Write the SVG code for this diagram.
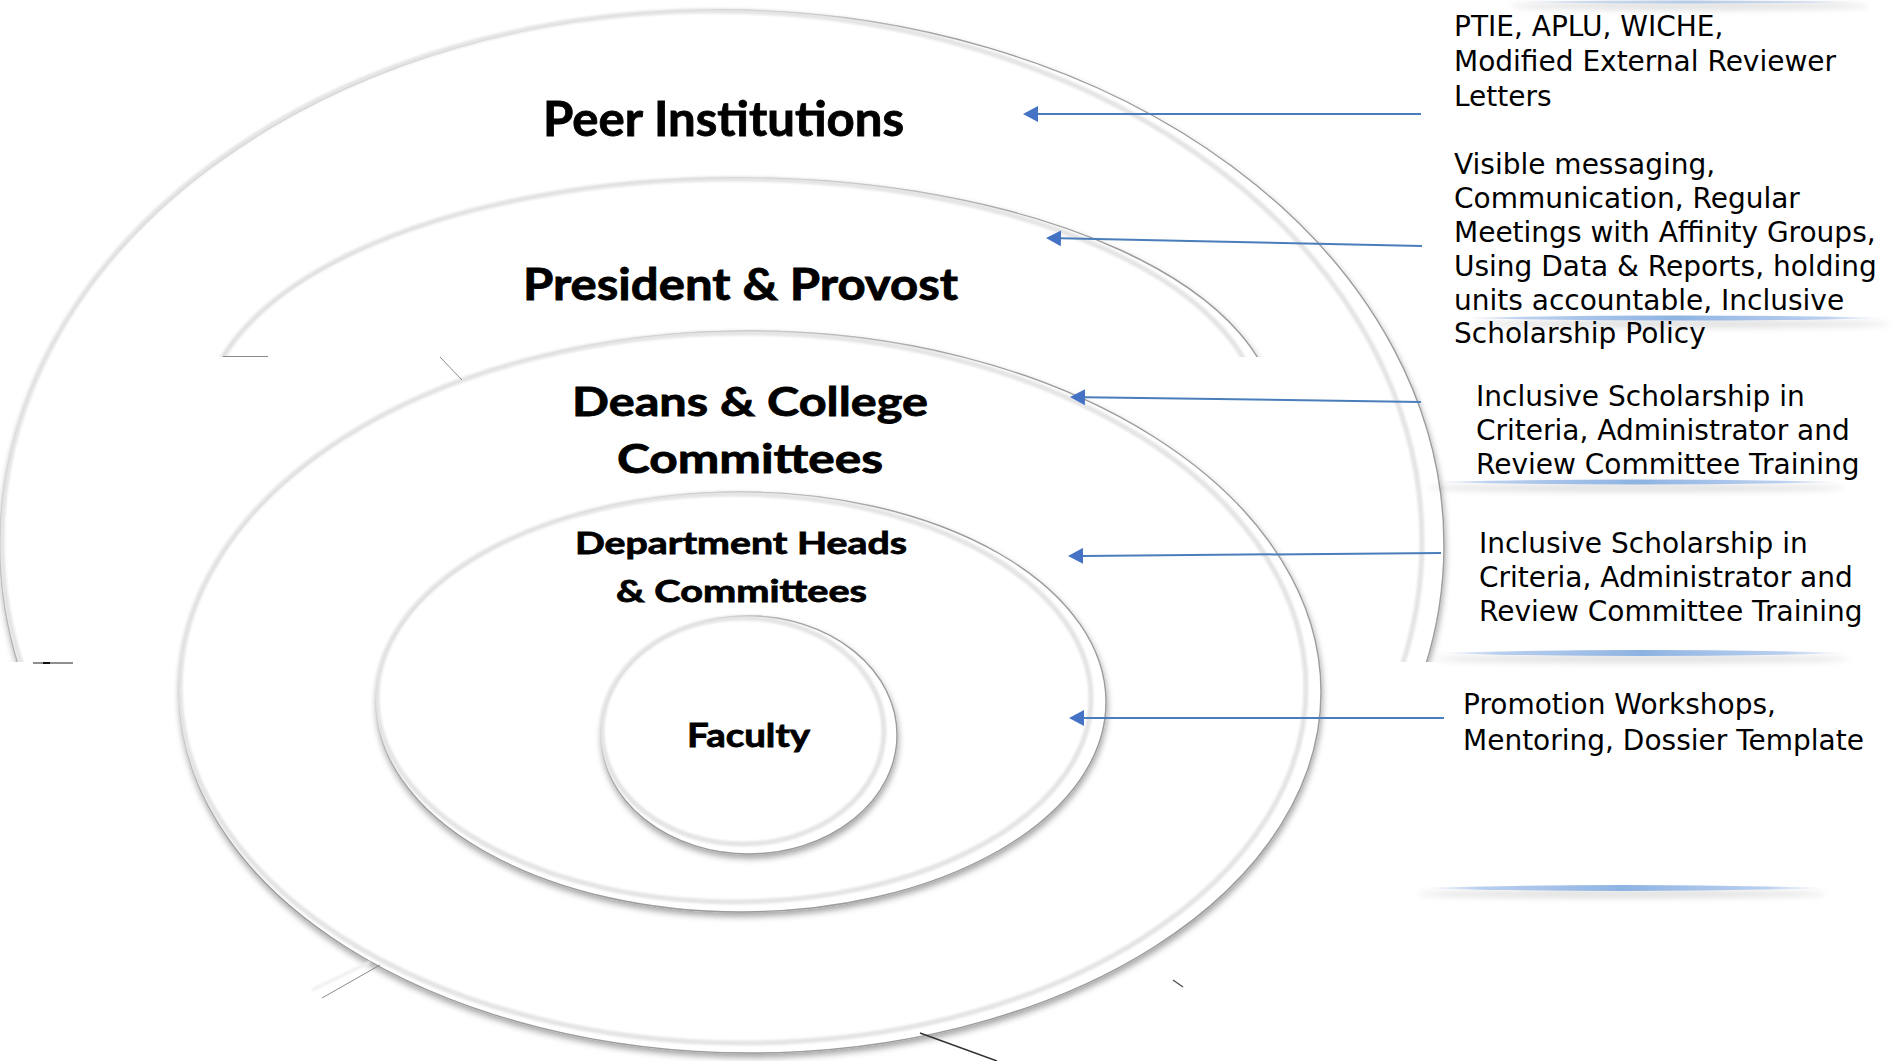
<svg xmlns="http://www.w3.org/2000/svg" width="1895" height="1061" viewBox="0 0 1895 1061">
  <style>
    .ring { fill: #ffffff; stroke: #9c9c9c; stroke-width: 1.4; }
    .bevel { fill: none; stroke: #e4e4e4; stroke-width: 5; }
    .label { font-family: Lato, "Liberation Sans", sans-serif; font-weight: 700; fill: #000; stroke: #000; stroke-width: 0.8; text-anchor: middle; }
    .note { font-family: "DejaVu Sans", Verdana, sans-serif; font-size: 28px; fill: #000; }
    .arrow { stroke: #4a7ebb; stroke-width: 2; fill: none; }
    .artifact { stroke: #8a8a8a; stroke-width: 1; fill: none; }
  </style>
  <defs>
    <filter id="ringShadow" x="-5%" y="-5%" width="110%" height="115%">
      <feGaussianBlur in="SourceAlpha" stdDeviation="3"/>
      <feOffset dx="1" dy="4" result="blurred"/>
      <feFlood flood-color="#000" flood-opacity="0.35"/>
      <feComposite in2="blurred" operator="in"/>
      <feMerge><feMergeNode/><feMergeNode in="SourceGraphic"/></feMerge>
    </filter>
    <filter id="soft" x="-5%" y="-5%" width="110%" height="110%">
      <feGaussianBlur stdDeviation="1.2"/>
    </filter>
    <filter id="haze" x="-10%" y="-200%" width="120%" height="500%">
      <feGaussianBlur stdDeviation="3"/>
    </filter>
    <clipPath id="cutPeer"><rect x="0" y="0" width="1895" height="662"/></clipPath>
    <clipPath id="cutPresident"><rect x="0" y="0" width="1895" height="357"/></clipPath>
    <linearGradient id="sepFill" x1="0" y1="0" x2="1" y2="0">
      <stop offset="0" stop-color="#c5d6f0" stop-opacity="0"/>
      <stop offset="0.15" stop-color="#a9c4ec" stop-opacity="0.8"/>
      <stop offset="0.5" stop-color="#8db3e2" stop-opacity="1"/>
      <stop offset="0.85" stop-color="#a9c4ec" stop-opacity="0.8"/>
      <stop offset="1" stop-color="#c5d6f0" stop-opacity="0"/>
    </linearGradient>
    <marker id="head" markerUnits="userSpaceOnUse" markerWidth="16" markerHeight="16" refX="0" refY="8" orient="auto">
      <path d="M0,0 L15,8 L0,16 Z" fill="#4472c4"/>
    </marker>
  </defs>

  <rect width="1895" height="1061" fill="#ffffff"/>

  <!-- outermost ring, cut off below -->
  <g id="node-peer">
    <g clip-path="url(#cutPeer)">
      <ellipse class="ring" cx="722" cy="545" rx="722" ry="535" filter="url(#ringShadow)"/>
      <ellipse class="bevel" cx="712" cy="541" rx="710" ry="530" filter="url(#soft)"/>
    </g>
    <text class="label" x="723.5" y="136" font-size="47" textLength="361" lengthAdjust="spacingAndGlyphs">Peer Institutions</text>
  </g>

  <g id="node-president">
    <g clip-path="url(#cutPresident)">
      <ellipse class="ring" cx="740" cy="423" rx="537" ry="245" filter="url(#ringShadow)"/>
      <ellipse class="bevel" cx="733" cy="420" rx="528" ry="241" filter="url(#soft)"/>
    </g>
    <line class="artifact" x1="223" y1="356.5" x2="268" y2="356.5" stroke="#9a9a9a" stroke-width="1.5"/>
    <text class="label" x="740.5" y="300" font-size="43" textLength="435" lengthAdjust="spacingAndGlyphs">President &amp; Provost</text>
  </g>

  <g id="node-deans">
    <ellipse class="ring" cx="750" cy="692" rx="571" ry="361" filter="url(#ringShadow)"/>
    <ellipse class="bevel" cx="743" cy="688" rx="563" ry="355" filter="url(#soft)"/>
    <text class="label" x="750" y="416" font-size="40" textLength="356" lengthAdjust="spacingAndGlyphs">Deans &amp; College</text>
    <text class="label" x="750" y="473" font-size="40" textLength="266" lengthAdjust="spacingAndGlyphs">Committees</text>
  </g>

  <g id="node-department">
    <ellipse class="ring" cx="741" cy="702" rx="365" ry="210" filter="url(#ringShadow)"/>
    <ellipse class="bevel" cx="734" cy="698" rx="357" ry="204" filter="url(#soft)"/>
    <text class="label" x="741" y="554" font-size="31" textLength="332" lengthAdjust="spacingAndGlyphs">Department Heads</text>
    <text class="label" x="741.5" y="602" font-size="31" textLength="251" lengthAdjust="spacingAndGlyphs">&amp; Committees</text>
  </g>

  <g id="node-faculty">
    <ellipse class="ring" cx="749" cy="735" rx="148" ry="119" filter="url(#ringShadow)"/>
    <ellipse class="bevel" cx="743" cy="731" rx="141" ry="113" filter="url(#soft)"/>
    <text class="label" x="748.5" y="747" font-size="33" textLength="123" lengthAdjust="spacingAndGlyphs">Faculty</text>
  </g>

  <!-- stray edge marks left by the cut-out rings -->
  <g id="edge-marks">
    <line x1="33" y1="663" x2="73" y2="663" stroke="#6a6a6a" stroke-width="1.5"/>
    <line x1="43" y1="663" x2="50" y2="663" stroke="#111" stroke-width="2"/>
    <line class="artifact" x1="440" y1="357" x2="462" y2="380"/>
    <line class="artifact" x1="380" y1="965" x2="322" y2="998" stroke="#777"/>
    <line x1="370" y1="962" x2="312" y2="990" stroke="#eee" stroke-width="3" filter="url(#soft)"/>
    <line x1="920" y1="1033" x2="997" y2="1061" stroke="#333" stroke-width="1.5"/>
    <line x1="1173" y1="980" x2="1183" y2="987" stroke="#555" stroke-width="1.5"/>
  </g>

  <!-- connectors: strategy notes pointing into the rings -->
  <g id="connectors">
    <line class="arrow" x1="1421" y1="114" x2="1038" y2="114" marker-end="url(#head)"/>
    <line class="arrow" x1="1422" y1="246" x2="1061" y2="238.3" marker-end="url(#head)"/>
    <line class="arrow" x1="1421" y1="402" x2="1085" y2="397.2" marker-end="url(#head)"/>
    <line class="arrow" x1="1441" y1="553" x2="1083" y2="555.9" marker-end="url(#head)"/>
    <line class="arrow" x1="1444" y1="718" x2="1084" y2="718" marker-end="url(#head)"/>
  </g>

  <!-- soft blue dividers between the notes -->
  <g id="dividers">
    <ellipse cx="1690" cy="6" rx="180" ry="4" fill="#000" opacity="0.12" filter="url(#haze)"/>
    <path d="M1510,2 Q1690,-1 1865,2 Q1690,5 1510,2 Z" fill="url(#sepFill)" opacity="0.6"/>
    <ellipse cx="1680" cy="324" rx="210" ry="4" fill="#000" opacity="0.12" filter="url(#haze)"/>
    <path d="M1458,318 Q1680,313 1890,318 Q1680,323 1458,318 Z" fill="url(#sepFill)"/>
    <ellipse cx="1636" cy="488" rx="208" ry="4" fill="#000" opacity="0.12" filter="url(#haze)"/>
    <path d="M1427,482 Q1636,477 1845,482 Q1636,487 1427,482 Z" fill="url(#sepFill)"/>
    <ellipse cx="1642" cy="659" rx="208" ry="4" fill="#000" opacity="0.12" filter="url(#haze)"/>
    <path d="M1433,653 Q1642,647 1850,653 Q1642,659 1433,653 Z" fill="url(#sepFill)"/>
    <ellipse cx="1622" cy="894" rx="205" ry="4" fill="#000" opacity="0.12" filter="url(#haze)"/>
    <path d="M1417,888 Q1622,882 1828,888 Q1622,894 1417,888 Z" fill="url(#sepFill)"/>
  </g>

  <g id="note-peer">
    <text class="note" x="1454" y="36">PTIE, APLU, WICHE,</text>
    <text class="note" x="1454" y="71">Modified External Reviewer</text>
    <text class="note" x="1454" y="106">Letters</text>
  </g>
  <g id="note-president">
    <text class="note" x="1454" y="174">Visible messaging,</text>
    <text class="note" x="1454" y="208">Communication, Regular</text>
    <text class="note" x="1454" y="242">Meetings with Affinity Groups,</text>
    <text class="note" x="1454" y="276">Using Data &amp; Reports, holding</text>
    <text class="note" x="1454" y="310">units accountable, Inclusive</text>
    <text class="note" x="1454" y="343">Scholarship Policy</text>
  </g>
  <g id="note-deans">
    <text class="note" x="1476" y="406">Inclusive Scholarship in</text>
    <text class="note" x="1476" y="440">Criteria, Administrator and</text>
    <text class="note" x="1476" y="474">Review Committee Training</text>
  </g>
  <g id="note-department">
    <text class="note" x="1479" y="553">Inclusive Scholarship in</text>
    <text class="note" x="1479" y="587">Criteria, Administrator and</text>
    <text class="note" x="1479" y="621">Review Committee Training</text>
  </g>
  <g id="note-faculty">
    <text class="note" x="1463" y="714">Promotion Workshops,</text>
    <text class="note" x="1463" y="750">Mentoring, Dossier Template</text>
  </g>
</svg>
